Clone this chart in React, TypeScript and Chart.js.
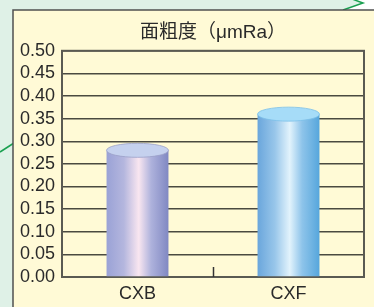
import React, { useEffect, useRef } from 'react';
import { Chart, registerables } from 'chart.js';

Chart.register(...registerables);

const categories: string[] = ['CXB', 'CXF'];
const roughness: number[] = [0.28, 0.36];
const yMin = 0;
const yMax = 0.5;
const yStep = 0.05;
const titleText = '面粗度（μmRa）';

const BAR_PCT = 0.41;
const FONT = "'Liberation Sans', Arial, 'Noto Sans CJK JP', sans-serif";
const bodyStops: string[][] = [
  ['#9aa2d6', '#b4b6de', '#f9e6f0', '#aeb2dc', '#8088c2'],
  ['#6aa6dc', '#98c6ea', '#e2f3fc', '#8ec4ea', '#56a6dc'],
];
const stopPos = [0, 0.28, 0.52, 0.72, 1];
const topColors = ['#c5d1ee', '#a6dcf8'];
const topEdge = ['#9aa0c8', '#7cc0e8'];

const backgroundPlugin = {
  id: 'bgDecor',
  beforeDraw(chart: any) {
    const { ctx, width, height } = chart;
    ctx.save();
    ctx.fillStyle = '#dff1e7';
    ctx.fillRect(0, 0, width, height);
    ctx.fillStyle = '#ffffff';
    ctx.beginPath();
    ctx.moveTo(343, 10);
    ctx.lineTo(363, 3);
    ctx.lineTo(352, 0);
    ctx.lineTo(width, 0);
    ctx.lineTo(width, 10);
    ctx.closePath();
    ctx.fill();
    ctx.strokeStyle = '#1aa050';
    ctx.lineWidth = 1.5;
    ctx.beginPath();
    ctx.moveTo(343, 10);
    ctx.lineTo(363, 3);
    ctx.lineTo(352, -1);
    ctx.stroke();
    ctx.beginPath();
    ctx.moveTo(0, 152);
    ctx.lineTo(14, 143);
    ctx.stroke();
    ctx.fillStyle = '#fffad6';
    ctx.fillRect(13, 10, width - 13, height - 10);
    ctx.strokeStyle = '#505050';
    ctx.lineWidth = 1.5;
    ctx.beginPath();
    ctx.moveTo(13, height);
    ctx.lineTo(13, 10);
    ctx.lineTo(width, 10);
    ctx.stroke();
    ctx.restore();
  },
  beforeDatasetsDraw(chart: any) {
    const { ctx, chartArea } = chart;
    const { left, right, top, bottom } = chartArea;
    ctx.save();
    ctx.strokeStyle = '#5a5a52';
    ctx.lineWidth = 2;
    ctx.strokeRect(left, top, right - left, bottom - top);
    const xs = chart.scales.x;
    ctx.strokeStyle = '#333';
    ctx.lineWidth = 1.5;
    for (let i = 0; i < categories.length - 1; i++) {
      const px = Math.round(xs.getPixelForValue(i + 0.5)) + 0.5;
      ctx.beginPath();
      ctx.moveTo(px, bottom);
      ctx.lineTo(px, bottom - 10);
      ctx.stroke();
    }
    ctx.restore();
  },
  afterDatasetsDraw(chart: any) {
    const { ctx } = chart;
    const meta = chart.getDatasetMeta(0);
    ctx.save();
    meta.data.forEach((el: any, i: number) => {
      const { x, y, width } = el.getProps(['x', 'y', 'width'], true);
      ctx.beginPath();
      ctx.ellipse(x, y, width / 2, 7, 0, 0, Math.PI * 2);
      ctx.fillStyle = topColors[i];
      ctx.fill();
      ctx.strokeStyle = topEdge[i];
      ctx.lineWidth = 0.8;
      ctx.stroke();
    });
    ctx.restore();
  },
};

export default function App() {
  const ref = useRef<HTMLCanvasElement | null>(null);
  useEffect(() => {
    document.body.style.margin = '0';
    const canvas = ref.current;
    if (!canvas) return;
    const chart = new Chart(canvas, {
      type: 'bar',
      data: {
        labels: categories,
        datasets: [
          {
            data: roughness,
            barPercentage: BAR_PCT,
            categoryPercentage: 1,
            borderWidth: 0,
            backgroundColor: (c: any) => {
              const ch = c.chart;
              const xs = ch.scales && ch.scales.x;
              const stops = bodyStops[c.dataIndex % bodyStops.length];
              if (!xs || !ch.chartArea) return stops[2];
              const cx = xs.getPixelForValue(c.dataIndex);
              const half = (xs.width / categories.length) * BAR_PCT / 2;
              const g = ch.ctx.createLinearGradient(cx - half, 0, cx + half, 0);
              stops.forEach((s: string, k: number) => g.addColorStop(stopPos[k], s));
              return g;
            },
          },
        ],
      },
      options: {
        animation: false,
        responsive: false,
        layout: { padding: { left: 20, right: 10, top: 0, bottom: 0 } },
        plugins: {
          legend: { display: false },
          tooltip: { enabled: false },
          title: {
            display: true,
            text: titleText,
            fullSize: false,
            color: '#2a2a2a',
            font: { family: FONT, size: 19, weight: 'normal' },
            padding: { top: 21, bottom: 7 },
          },
        },
        scales: {
          x: {
            grid: { display: false, drawTicks: false },
            border: { display: false },
            ticks: { color: '#2a2a2a', font: { family: FONT, size: 18 }, padding: 6 },
            afterFit: (s: any) => { s.height = 30; },
          },
          y: {
            min: yMin,
            max: yMax,
            grid: { color: '#4a4a40', lineWidth: 1.5, drawTicks: false },
            border: { display: false },
            ticks: {
              stepSize: yStep,
              autoSkip: false,
              color: '#2a2a2a',
              font: { family: FONT, size: 18 },
              padding: 7,
              callback: (v: any) => Number(v).toFixed(2),
            },
            afterFit: (s: any) => { s.width = 42; },
          },
        },
      },
      plugins: [backgroundPlugin],
    });
    return () => chart.destroy();
  }, []);
  return (
    <div style={{ width: 374, height: 307 }}>
      <canvas ref={ref} width={374} height={307} style={{ display: 'block' }} />
    </div>
  );
}
